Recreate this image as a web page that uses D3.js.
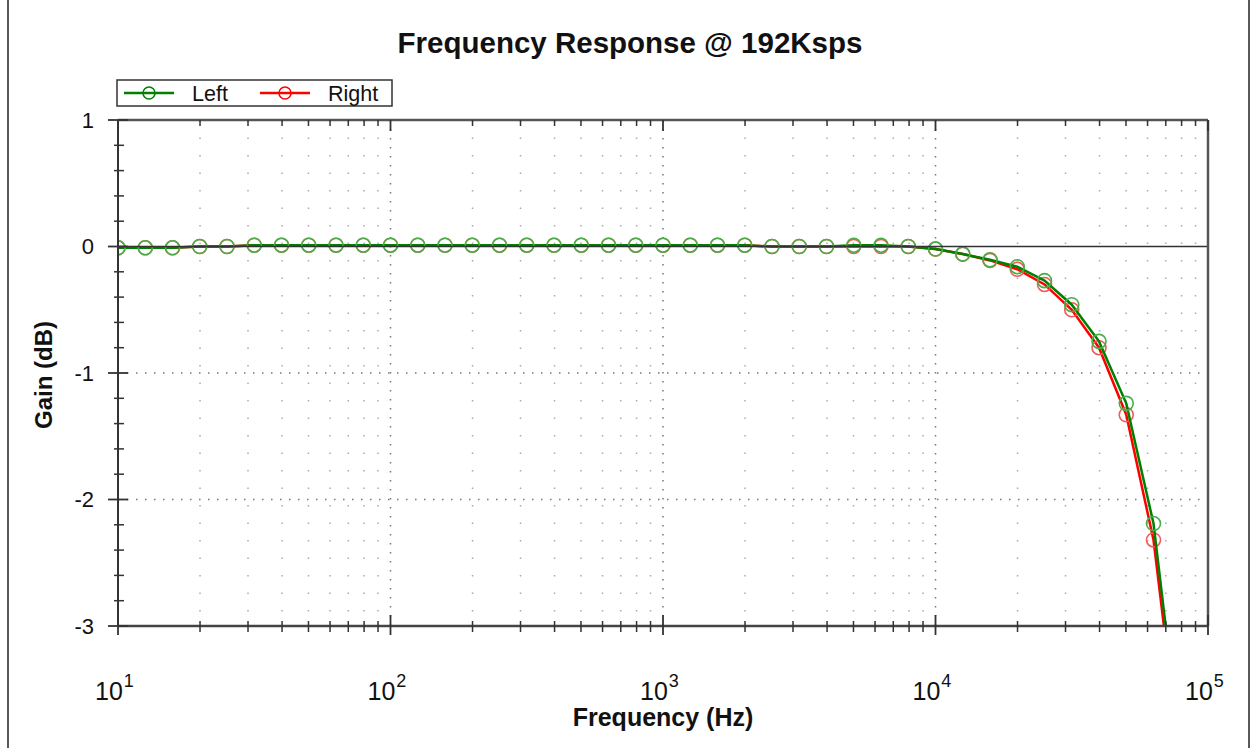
<!DOCTYPE html>
<html>
<head>
<meta charset="utf-8">
<script src="https://cdn.jsdelivr.net/npm/d3@7"></script>
<style>
  body { margin: 0; background: #fff; }
  text { font-family: "Liberation Sans", Arial, sans-serif; fill: #111; }
</style>
</head>
<body>
<div class="chart"></div>
<script>
var svgWidth = 1253;
var svgHeight = 748;

var margin = { top: 120, right: 45, bottom: 122, left: 118 };
var width = 1208 - margin.left;
var height = 626 - margin.top;

// frequencies (Hz) of the measured points
var freqs = [10, 12.59, 15.85, 19.95, 25.12, 31.62, 39.81, 50.12, 63.1, 79.43,
  100, 125.9, 158.5, 199.5, 251.2, 316.2, 398.1, 501.2, 631, 794.3,
  1000, 1259, 1585, 1995, 2512, 3162, 3981, 5012, 6310, 7943,
  10000, 12589, 15849, 19953, 25119, 31623, 39811, 50119, 63096, 79433];

// gain (dB)
var leftGain = [-0.01, -0.01, -0.01, 0, 0, 0.01, 0.01, 0.01, 0.01, 0.01,
  0.01, 0.01, 0.01, 0.01, 0.01, 0.01, 0.01, 0.01, 0.01, 0.01,
  0.01, 0.01, 0.01, 0.01, 0, 0, 0, 0.01, 0.01, 0,
  -0.02, -0.06, -0.105, -0.16, -0.27, -0.46, -0.75, -1.24, -2.19, -4.0];
var rightGain = [-0.01, -0.01, -0.01, 0, 0, 0.01, 0.01, 0.01, 0.01, 0.01,
  0.01, 0.01, 0.01, 0.01, 0.01, 0.01, 0.01, 0.01, 0.01, 0.01,
  0.01, 0.01, 0.01, 0.01, 0, 0, 0, 0, 0, 0,
  -0.02, -0.06, -0.11, -0.18, -0.30, -0.50, -0.80, -1.33, -2.32, -4.1];

var xMajor = [10, 100, 1000, 10000, 100000];
var xExp = ["1", "2", "3", "4", "5"];
var xMinor = [20, 30, 40, 50, 60, 70, 80, 90, 200, 300, 400, 500, 600, 700, 800, 900,
  2000, 3000, 4000, 5000, 6000, 7000, 8000, 9000, 20000, 30000, 40000, 50000, 60000, 70000, 80000, 90000];
var yMajor = [1, 0, -1, -2, -3];
var yMinor = [0.8, 0.6, 0.4, 0.2, -0.2, -0.4, -0.6, -0.8, -1.2, -1.4, -1.6, -1.8, -2.2, -2.4, -2.6, -2.8];

var series = [
  { name: "Right", values: rightGain, line: "#ff0000", marker: "#f25a5a" },
  { name: "Left", values: leftGain, line: "#008000", marker: "#46b046" }
];

var svg = d3.select(".chart")
  .append("svg")
  .attr("width", svgWidth)
  .attr("height", svgHeight);

// outer frame
svg.append("rect")
  .attr("x", 8).attr("y", -5)
  .attr("width", 1241).attr("height", svgHeight + 10)
  .attr("fill", "none").attr("stroke", "#222").attr("stroke-width", 1.5);

var chartGroup = svg.append("g")
  .attr("transform", `translate(${margin.left}, ${margin.top})`);

var x = d3.scaleLog().domain([10, 100000]).range([0, width]);
var y = d3.scaleLinear().domain([-3, 1]).range([height, 0]);

// grid: sparse dots for minor freqs, denser for decades and whole dB
chartGroup.selectAll(".gridMinor")
  .data(xMinor)
  .enter().append("line")
  .attr("x1", d => x(d)).attr("x2", d => x(d))
  .attr("y1", 0).attr("y2", height)
  .attr("stroke", "#aaa").attr("stroke-width", 1.5)
  .attr("stroke-dasharray", "1.5,16");

chartGroup.selectAll(".gridMajorX")
  .data(xMajor.slice(1, 4))
  .enter().append("line")
  .attr("x1", d => x(d)).attr("x2", d => x(d))
  .attr("y1", 0).attr("y2", height)
  .attr("stroke", "#777").attr("stroke-width", 1.5)
  .attr("stroke-dasharray", "1.5,7.5");

chartGroup.selectAll(".gridMajorY")
  .data([-1, -2])
  .enter().append("line")
  .attr("x1", 0).attr("x2", width)
  .attr("y1", d => y(d)).attr("y2", d => y(d))
  .attr("stroke", "#777").attr("stroke-width", 1.5)
  .attr("stroke-dasharray", "1.5,7.5");

// data
chartGroup.append("clipPath").attr("id", "plotClip")
  .append("rect").attr("width", width).attr("height", height);

var plot = chartGroup.append("g").attr("clip-path", "url(#plotClip)");

var line = d3.line()
  .x((d, i) => x(freqs[i]))
  .y(d => y(d));

series.forEach(function(s) {
  plot.append("path")
    .datum(s.values)
    .attr("d", line)
    .attr("fill", "none")
    .attr("stroke", s.line)
    .attr("stroke-width", 2.5);

  plot.selectAll(".m" + s.name)
    .data(s.values)
    .enter().append("circle")
    .attr("cx", (d, i) => x(freqs[i]))
    .attr("cy", d => y(d))
    .attr("r", 7)
    .attr("fill", "none")
    .attr("stroke", s.marker)
    .attr("stroke-width", 1.6);
});

// zero line
chartGroup.append("line")
  .attr("x1", 0).attr("x2", width)
  .attr("y1", y(0)).attr("y2", y(0))
  .attr("stroke", "#333").attr("stroke-width", 1.5);

// frame
chartGroup.append("line").attr("x1", 0).attr("x2", width).attr("y1", 0).attr("y2", 0)
  .attr("stroke", "#555").attr("stroke-width", 2.5);
chartGroup.append("line").attr("x1", width).attr("x2", width).attr("y1", 0).attr("y2", height)
  .attr("stroke", "#555").attr("stroke-width", 2.5);
chartGroup.append("line").attr("x1", 0).attr("x2", width).attr("y1", height).attr("y2", height)
  .attr("stroke", "#444").attr("stroke-width", 2.5);
chartGroup.append("line").attr("x1", 0).attr("x2", 0).attr("y1", 0).attr("y2", height)
  .attr("stroke", "#333").attr("stroke-width", 2);

// ticks (cross the axes, like the original)
var tickColor = "#333";
chartGroup.selectAll(".xMinB").data(xMinor).enter().append("line")
  .attr("x1", d => x(d)).attr("x2", d => x(d))
  .attr("y1", height - 5).attr("y2", height + 6)
  .attr("stroke", tickColor).attr("stroke-width", 1.5);
chartGroup.selectAll(".xMajB").data(xMajor).enter().append("line")
  .attr("x1", d => x(d)).attr("x2", d => x(d))
  .attr("y1", height - 11).attr("y2", height + 9)
  .attr("stroke", tickColor).attr("stroke-width", 1.8);
chartGroup.selectAll(".xMinT").data(xMinor).enter().append("line")
  .attr("x1", d => x(d)).attr("x2", d => x(d))
  .attr("y1", 0).attr("y2", 6)
  .attr("stroke", tickColor).attr("stroke-width", 1.5);
chartGroup.selectAll(".xMajT").data(xMajor).enter().append("line")
  .attr("x1", d => x(d)).attr("x2", d => x(d))
  .attr("y1", 0).attr("y2", 11)
  .attr("stroke", tickColor).attr("stroke-width", 1.8);
chartGroup.selectAll(".yMin").data(yMinor).enter().append("line")
  .attr("x1", -4).attr("x2", 6)
  .attr("y1", d => y(d)).attr("y2", d => y(d))
  .attr("stroke", tickColor).attr("stroke-width", 1.5);
chartGroup.selectAll(".yMaj").data(yMajor).enter().append("line")
  .attr("x1", -10).attr("x2", 10)
  .attr("y1", d => y(d)).attr("y2", d => y(d))
  .attr("stroke", tickColor).attr("stroke-width", 1.8);

// tick labels
chartGroup.selectAll(".yLab").data(yMajor).enter().append("text")
  .attr("x", -24)
  .attr("y", d => y(d))
  .attr("dy", "0.36em")
  .attr("text-anchor", "end")
  .style("font-size", "22px")
  .text(d => d);

var xLab = chartGroup.selectAll(".xLab").data(xMajor).enter().append("text")
  .attr("x", d => x(d) - 23)
  .attr("y", height + 74)
  .style("font-size", "25px");
xLab.append("tspan").text("10");
xLab.append("tspan").attr("dx", 1).attr("dy", -13).style("font-size", "18px").text((d, i) => xExp[i]);

// axis titles
chartGroup.append("text")
  .attr("x", x(1000))
  .attr("y", height + 100)
  .attr("text-anchor", "middle")
  .style("font-size", "25px").style("font-weight", "bold")
  .text("Frequency (Hz)");

chartGroup.append("text")
  .attr("transform", "rotate(-90)")
  .attr("x", -y(-1) - 2)
  .attr("y", -66)
  .attr("text-anchor", "middle")
  .style("font-size", "24px").style("font-weight", "bold")
  .text("Gain (dB)");

// title
svg.append("text")
  .attr("x", 630).attr("y", 53)
  .attr("text-anchor", "middle")
  .style("font-size", "29.5px").style("font-weight", "bold")
  .text("Frequency Response @ 192Ksps");

// legend
var legend = svg.append("g").attr("transform", "translate(117, 80)");
legend.append("rect").attr("width", 275).attr("height", 26)
  .attr("fill", "#fff").attr("stroke", "#333").attr("stroke-width", 1.5);
var legendItems = [series[1], series[0]];
var lg = legend.selectAll(".item").data(legendItems).enter().append("g")
  .attr("transform", (d, i) => `translate(${7 + i * 136}, 13)`);
lg.append("line").attr("x1", 0).attr("x2", 50).attr("y1", 0).attr("y2", 0)
  .attr("stroke", d => d.line).attr("stroke-width", 2.5);
lg.append("circle").attr("cx", 25).attr("r", 6)
  .attr("fill", "none").attr("stroke", d => d.line).attr("stroke-width", 1.5);
lg.append("text").attr("x", 68).attr("y", 8)
  .style("font-size", "21.5px")
  .text(d => d.name);
</script>
</body>
</html>
